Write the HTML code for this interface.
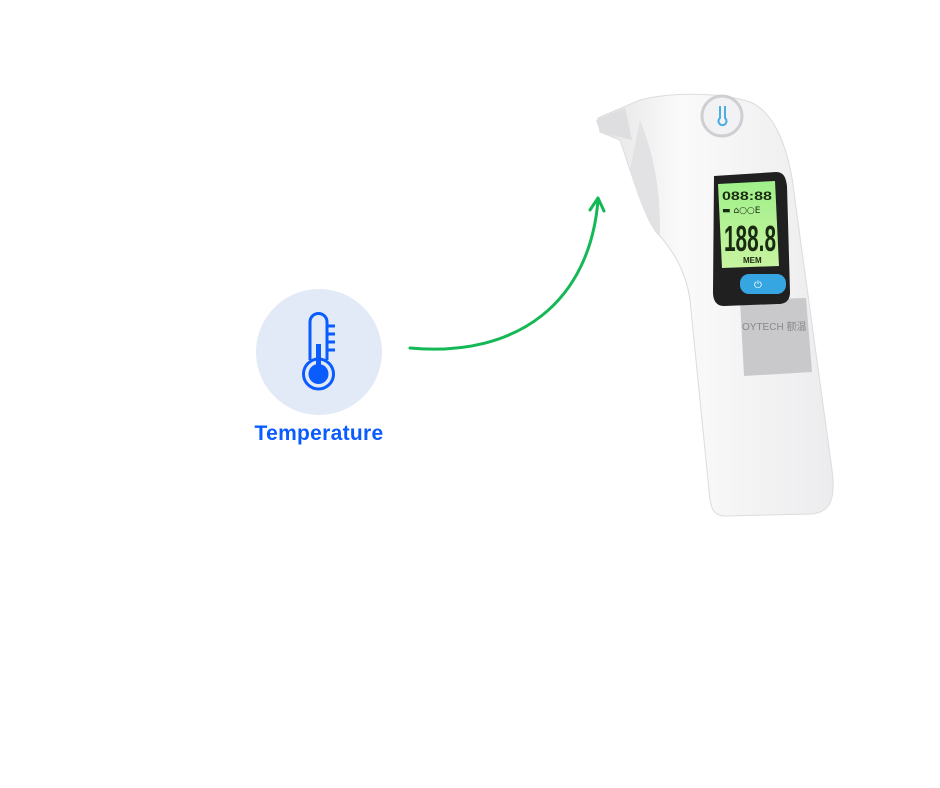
<!DOCTYPE html>
<html><head><meta charset="utf-8"><style>
html,body{margin:0;padding:0;background:#fff;width:940px;height:788px;overflow:hidden}
.lbl{position:absolute;left:219px;top:422px;width:200px;text-align:center;font-family:"Liberation Sans",sans-serif;font-weight:bold;font-size:21px;color:#0b5cff;letter-spacing:0.3px}
</style></head><body>
<svg width="940" height="788" style="position:absolute;left:0;top:0">
<defs>
<linearGradient id="bd" x1="0" y1="0" x2="1" y2="0">
<stop offset="0" stop-color="#e4e4e6"/><stop offset="0.35" stop-color="#fafafa"/><stop offset="1" stop-color="#ececee"/></linearGradient>
<linearGradient id="lcd" x1="0" y1="0" x2="0" y2="1">
<stop offset="0" stop-color="#9ff08a"/><stop offset="1" stop-color="#c8f3a0"/></linearGradient>
</defs>
<circle cx="319" cy="352" r="63" fill="#e2eaf8"/>
<g fill="none" stroke="#0b5cff" stroke-width="3">
<path d="M310 360 V322 a8.5 8.5 0 0 1 17 0 V360"/>
<circle cx="318.5" cy="374" r="15"/>
<path d="M327 326 h8 M327 334 h8 M327 342 h8 M327 350 h8"/>
</g>
<rect x="316" y="344" width="5" height="24" fill="#0b5cff"/>
<circle cx="318.5" cy="374" r="10" fill="#0b5cff"/>
<path d="M410 348 C520 358 590 300 598 200" fill="none" stroke="#14b856" stroke-width="3" stroke-linecap="round"/>
<path d="M590 210 L598 198 L604 211" fill="none" stroke="#14b856" stroke-width="3" stroke-linecap="round" stroke-linejoin="round"/>
<path d="M598 118 L640 100 C670 92 720 92 750 102 C775 112 790 150 795 200 L832 470 C836 500 830 512 812 514 L725 516 C712 516 710 505 709 490 L690 300 C686 270 672 250 660 236 C650 228 640 200 630 170 L620 140 L600 132 Z" fill="url(#bd)" stroke="#dcdcde" stroke-width="1"/>
<path d="M596 120 L625 108 L632 140 L600 132 Z" fill="#dedee0"/>
<path d="M640 120 C660 170 660 210 660 236 C650 228 640 200 630 170 Z" fill="#e2e2e4"/>
<circle cx="722" cy="116" r="20" fill="#f2f2f4" stroke="#cfcfd3" stroke-width="3"/>
<path d="M720 106 v12 a4 4 0 1 0 5 0 v-12" fill="none" stroke="#4aaee0" stroke-width="2"/>
<path d="M740 300 L806 298 L812 372 L744 376 Z" fill="#c9c9cc"/>
<text x="742" y="330" font-family="Liberation Sans,sans-serif" font-size="10" fill="#888">OYTECH 额温</text>
<path d="M714 176 L776 172 C784 172 786 178 787 186 L790 292 C790 300 786 304 778 304 L724 306 C716 306 713 300 713 292 Z" fill="#202020"/>
<path d="M718 184 L775 181 L779 266 L722 268 Z" fill="url(#lcd)"/>
<text x="724" y="251" font-family="Liberation Sans,sans-serif" font-size="36" font-weight="bold" fill="#1a2a12" textLength="52" lengthAdjust="spacingAndGlyphs">188.8</text>
<text x="722" y="200" font-family="Liberation Sans,sans-serif" font-size="12" font-weight="bold" fill="#1a2a12" textLength="50" lengthAdjust="spacingAndGlyphs">088:88</text>
<text x="722" y="213" font-family="DejaVu Sans,sans-serif" font-size="9" fill="#1a2a12">▬ ⌂○○E</text>
<text x="743" y="263" font-family="Liberation Sans,sans-serif" font-size="8" font-weight="bold" fill="#1a2a12">MEM</text>
<rect x="740" y="274" width="46" height="20" rx="9" fill="#35a6e2"/>
<text x="754" y="288" font-family="DejaVu Sans,sans-serif" font-size="10" fill="#fff">⏻</text>
</svg>
<div class="lbl">Temperature</div>
</body></html>
